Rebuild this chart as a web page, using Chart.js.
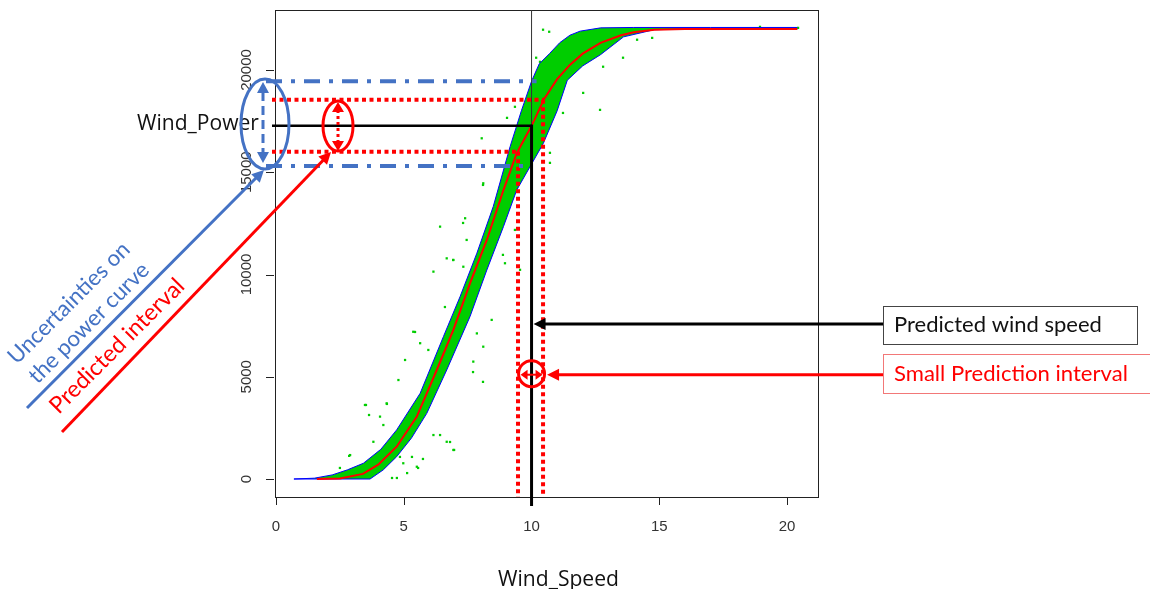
<!DOCTYPE html>
<html>
<head>
<meta charset="utf-8">
<script src="https://cdn.jsdelivr.net/npm/chart.js@4"></script>
<style>
  body { margin: 0; background: #fff; }
  canvas { display: block; }
</style>
</head>
<body>
<canvas id="chart" width="1150" height="589"></canvas>
<script>
const xTicks = [0, 5, 10, 15, 20];
const yTicks = [0, 5000, 10000, 15000, 20000];

// fitted power curve (red)
const curveSpeed = [1.6, 2.5, 3.4, 4.0, 4.72, 5.51, 6.29, 6.94, 7.59, 8.25, 8.9, 9.42, 10.0, 10.5, 11.0, 11.5, 12.0, 12.7, 13.5, 14.0, 14.8, 16.0, 18.0, 20.4];
const curvePower = [0, 30, 250, 700, 1580, 3050, 5330, 7290, 9570, 11690, 14130, 15930, 17270, 18600, 19550, 20250, 20800, 21330, 21700, 21850, 21970, 22000, 22000, 22000];

// uncertainty band, left/upper blue line
const upperSpeed = [0.7, 1.5, 2.2, 2.8, 3.42, 4.1, 4.72, 5.64, 6.55, 7.2, 7.86, 8.5, 9.16, 9.6, 10.0, 10.3, 10.7, 11.1, 11.5, 11.9, 12.7, 14.0, 17.0, 20.4];
const upperPower = [0, 40, 200, 450, 770, 1450, 2400, 4190, 6960, 8910, 11040, 13320, 16250, 18000, 19450, 20300, 20800, 21330, 21700, 21900, 22060, 22080, 22080, 22080];

// uncertainty band, right/lower blue line
const lowerSpeed = [0.7, 3.68, 4.2, 4.72, 5.3, 5.9, 6.68, 7.59, 8.25, 8.9, 9.42, 9.94, 10.46, 11.0, 11.4, 12.0, 12.7, 13.6, 14.8, 16.0, 20.4];
const lowerPower = [0, 0, 450, 1090, 2000, 3210, 5330, 7940, 10220, 12340, 14130, 15270, 16410, 18000, 19500, 20200, 20750, 21620, 21970, 22000, 22000];

// scattered measurements outside the band
const outlierSpeed = [
  8.05, 8.11, 7.40, 6.42, 7.46, 6.68, 6.94, 6.16, 7.33, 8.96, 8.44, 7.86, 7.72, 8.11, 5.37, 5.64, 5.96, 5.05, 4.79, 4.33,
  3.48, 4.07, 4.20, 6.16, 6.42, 6.68, 6.94, 5.51, 4.98, 2.90, 3.81, 7.32, 8.10, 6.93, 7.32, 6.61, 5.44, 8.10, 7.71, 8.88,
  9.55, 9.35, 3.52, 4.34, 3.64, 6.81, 6.97, 5.75, 5.56, 5.13, 5.32, 4.85, 2.86, 2.50, 4.54, 4.73,
  10.45, 10.69, 10.18, 10.33, 12.68, 12.02, 12.80, 13.58, 14.13, 14.72, 11.23, 10.72, 10.72, 9.35, 9.04, 18.94, 20.43];
const outlierPower = [
  16660, 14460, 12750, 12340, 11690, 10790, 10710, 10140, 10380, 10550, 7780, 7120, 5740, 6470, 7200, 6640, 6310, 5820, 4840, 3700,
  3620, 3050, 2640, 2150, 2150, 1820, 1420, 600, 770, 1170, 1820, 12520, 14380, 10710, 8610, 8410, 7190, 4750, 5230, 10960,
  10230, 12180, 3620, 3670, 3130, 1810, 1420, 980, 540, 290, 1080, 1080, 1130, 540, 50, 50,
  21970, 21870, 20600, 20400, 18050, 18880, 20160, 20600, 21480, 21570, 17900, 15460, 15950, 18200, 17660, 22110, 22060];

// prediction read-off
const predictedSpeed = 10;
const predictedPower = 17270;
const intervalSpeed = [9.47, 10.45];
const intervalPower = [16000, 18540];
const uncertaintyPower = [15300, 19450];
const windSpeedMarker = [7580, 5100];

const annBlue = "#4472C4";
const annRed = "#FF0000";

function pts(xs, ys) {
  return xs.map((x, i) => ({ x: x, y: ys[i] }));
}

function seg(ctx, x1, y1, x2, y2, color, width, dash) {
  ctx.save();
  ctx.strokeStyle = color;
  ctx.lineWidth = width;
  ctx.setLineDash(dash || []);
  ctx.beginPath();
  ctx.moveTo(x1, y1);
  ctx.lineTo(x2, y2);
  ctx.stroke();
  ctx.restore();
}

function head(ctx, x, y, ang, len, half, color) {
  ctx.save();
  ctx.fillStyle = color;
  ctx.translate(x, y);
  ctx.rotate(ang);
  ctx.beginPath();
  ctx.moveTo(0, 0);
  ctx.lineTo(-len, -half);
  ctx.lineTo(-len, half);
  ctx.closePath();
  ctx.fill();
  ctx.restore();
}

function arrow(ctx, x1, y1, x2, y2, color, width, len, half) {
  const ang = Math.atan2(y2 - y1, x2 - x1);
  seg(ctx, x1, y1, x2 - Math.cos(ang) * len * 0.8, y2 - Math.sin(ang) * len * 0.8, color, width);
  head(ctx, x2, y2, ang, len, half, color);
}

function ellipse(ctx, cx, cy, rx, ry, color, width) {
  ctx.save();
  ctx.strokeStyle = color;
  ctx.lineWidth = width;
  ctx.beginPath();
  ctx.ellipse(cx, cy, rx, ry, 0, 0, Math.PI * 2);
  ctx.stroke();
  ctx.restore();
}

function fitFont(ctx, text, family, width) {
  ctx.font = "100px " + family;
  const size = 100 * width / ctx.measureText(text).width;
  ctx.font = size.toFixed(2) + "px " + family;
}

function label(ctx, text, x, y, family, width, color, align, rot) {
  ctx.save();
  fitFont(ctx, text, family, width);
  ctx.fillStyle = color;
  ctx.textAlign = align || "left";
  ctx.textBaseline = "middle";
  ctx.translate(x, y);
  if (rot) ctx.rotate(rot);
  ctx.fillText(text, 0, 0);
  ctx.restore();
}

const annotations = {
  id: "annotations",
  afterDraw(chart) {
    const ctx = chart.ctx;
    const xs = chart.scales.x;
    const ys = chart.scales.y;
    const a = chart.chartArea;
    const px = (v) => xs.getPixelForValue(v);
    const py = (v) => ys.getPixelForValue(v);

    // R style frame, ticks and labels
    ctx.save();
    ctx.strokeStyle = "#222";
    ctx.lineWidth = 1;
    ctx.strokeRect(a.left + 0.5, a.top + 0.5, a.right - a.left, a.bottom - a.top);
    ctx.font = "15px 'Liberation Sans', Arial, sans-serif";
    ctx.fillStyle = "#333";
    ctx.textAlign = "center";
    ctx.textBaseline = "middle";
    ctx.beginPath();
    ctx.moveTo(px(xTicks[0]), a.bottom + 0.5);
    ctx.lineTo(px(xTicks[xTicks.length - 1]), a.bottom + 0.5);
    for (const t of xTicks) {
      const x = Math.round(px(t)) + 0.5;
      ctx.moveTo(x, a.bottom);
      ctx.lineTo(x, a.bottom + 8);
      ctx.fillText(String(t), px(t), a.bottom + 30);
    }
    for (const t of yTicks) {
      const y = Math.round(py(t)) + 0.5;
      ctx.moveTo(a.left - 9, y);
      ctx.lineTo(a.left - 1, y);
      ctx.save();
      ctx.translate(a.left - 28, py(t));
      ctx.rotate(-Math.PI / 2);
      ctx.fillText(String(t), 0, 0);
      ctx.restore();
    }
    ctx.stroke();
    ctx.restore();

    // axis titles
    label(ctx, "Wind_Speed", 498, 580, "'Open Sans', sans-serif", 121, "#111", "left");
    label(ctx, "Wind_Power", 137, py(predictedPower) - 2, "'Open Sans', sans-serif", 122, "#111", "left");

    const cx = px(predictedSpeed);
    const cy = py(predictedPower);

    // predicted wind speed read-off
    seg(ctx, cx, a.top, cx, cy, "#333", 1);
    seg(ctx, cx, cy - 1, cx, a.bottom + 9, "#000", 3);
    seg(ctx, 272, cy, cx + 1, cy, "#000", 2.5);

    // prediction interval, dotted red
    const dot = [4, 3.5];
    seg(ctx, 272, py(intervalPower[1]), px(intervalSpeed[1]) + 2, py(intervalPower[1]), annRed, 4, dot);
    seg(ctx, 272, py(intervalPower[0]), px(intervalSpeed[0]) + 2, py(intervalPower[0]), annRed, 4, dot);
    seg(ctx, px(intervalSpeed[1]), py(intervalPower[1]), px(intervalSpeed[1]), a.bottom, annRed, 4, dot);
    seg(ctx, px(intervalSpeed[0]), py(intervalPower[0]), px(intervalSpeed[0]), a.bottom, annRed, 4, dot);

    // power curve uncertainty, blue dash-dot
    const dashDot = [16, 9, 4, 9];
    seg(ctx, 266, py(uncertaintyPower[1]), cx + 5, py(uncertaintyPower[1]), annBlue, 4, dashDot);
    seg(ctx, 266, py(uncertaintyPower[0]), cx, py(uncertaintyPower[0]), annBlue, 4, dashDot);

    // blue ellipse with dashed double arrow
    ellipse(ctx, 265, 124, 24, 45, annBlue, 3);
    seg(ctx, 263, 92, 263, 152, annBlue, 3, [9, 5]);
    head(ctx, 263, 82, -Math.PI / 2, 11, 6, annBlue);
    head(ctx, 263, 163, Math.PI / 2, 11, 6, annBlue);

    // red ellipse with dotted double arrow
    ellipse(ctx, 338, 126, 15, 25, annRed, 3);
    seg(ctx, 338, 110, 338, 142, annRed, 3, [3, 3]);
    head(ctx, 338, 102, -Math.PI / 2, 10, 6, annRed);
    head(ctx, 338, 151, Math.PI / 2, 10, 6, annRed);

    // diagonal callouts
    arrow(ctx, 27, 408, 264, 170, annBlue, 3, 12, 6);
    arrow(ctx, 62, 432, 331, 152, annRed, 3, 12, 6);
    const diag = -Math.PI / 4;
    label(ctx, "Uncertainties on", 69, 303, "Lato, sans-serif", 162, annBlue, "center", diag);
    label(ctx, "the power curve", 89, 323, "Lato, sans-serif", 160, annBlue, "center", diag);
    label(ctx, "Predicted interval", 117, 346, "Lato, sans-serif", 180, annRed, "center", diag);

    // right hand boxes
    const wy = py(windSpeedMarker[0]);
    const ry = py(windSpeedMarker[1]);
    ctx.save();
    ctx.fillStyle = "#fff";
    ctx.fillRect(883, 306, 254, 38);
    ctx.strokeStyle = "#444";
    ctx.lineWidth = 1;
    ctx.strokeRect(883.5, 306.5, 254, 38);
    ctx.strokeStyle = "#f27878";
    ctx.strokeRect(883.5, 354.5, 280, 39);
    ctx.restore();
    label(ctx, "Predicted wind speed", 894, 325, "Lato, sans-serif", 208, "#111", "left");
    label(ctx, "Small Prediction interval", 894, 374, "Lato, sans-serif", 234, annRed, "left");

    arrow(ctx, 883, wy, cx + 2, wy, "#000", 3, 12, 6);
    arrow(ctx, 883, ry, px(intervalSpeed[1]) + 4, ry, annRed, 3, 12, 6);

    // small interval marker on the speed axis
    ellipse(ctx, cx, ry - 1, 13, 13, annRed, 3);
    seg(ctx, cx - 5, ry, cx + 5, ry, annRed, 2);
    head(ctx, cx - 11, ry, Math.PI, 7, 5, annRed);
    head(ctx, cx + 11, ry, 0, 7, 5, annRed);
  },
};

function createChart() {
  const green = "#00CD00";
  const el = document.getElementById("chart");
  const ctx = el.getContext("2d");
  return new Chart(ctx, {
    type: "scatter",
    data: {
      datasets: [
        {
          label: "Upper",
          data: pts(upperSpeed, upperPower),
          showLine: true,
          borderColor: "#0000FF",
          borderWidth: 1,
          pointRadius: 0,
          backgroundColor: green,
          fill: 1,
          order: 1,
        },
        {
          label: "Lower",
          data: pts(lowerSpeed, lowerPower),
          showLine: true,
          borderColor: "#0000FF",
          borderWidth: 1,
          pointRadius: 0,
          fill: false,
          order: 1,
        },
        {
          label: "Measured",
          data: pts(outlierSpeed, outlierPower),
          showLine: false,
          pointStyle: "rect",
          pointRadius: 1.6,
          borderWidth: 0,
          backgroundColor: green,
          order: 2,
        },
        {
          label: "Power curve",
          data: pts(curveSpeed, curvePower),
          showLine: true,
          borderColor: "#FF0000",
          borderWidth: 2,
          pointRadius: 0,
          fill: false,
          order: 0,
        },
      ],
    },
    options: {
      responsive: false,
      animation: false,
      layout: { padding: { left: 275, right: 332, top: 10, bottom: 92 } },
      scales: {
        x: { type: "linear", min: -0.04, max: 21.21, display: false },
        y: { type: "linear", min: -880, max: 22934, display: false },
      },
      plugins: {
        legend: { display: false },
        tooltip: { enabled: false },
        filler: { drawTime: "beforeDatasetsDraw" },
      },
    },
    plugins: [annotations],
  });
}

createChart();
</script>
</body>
</html>
